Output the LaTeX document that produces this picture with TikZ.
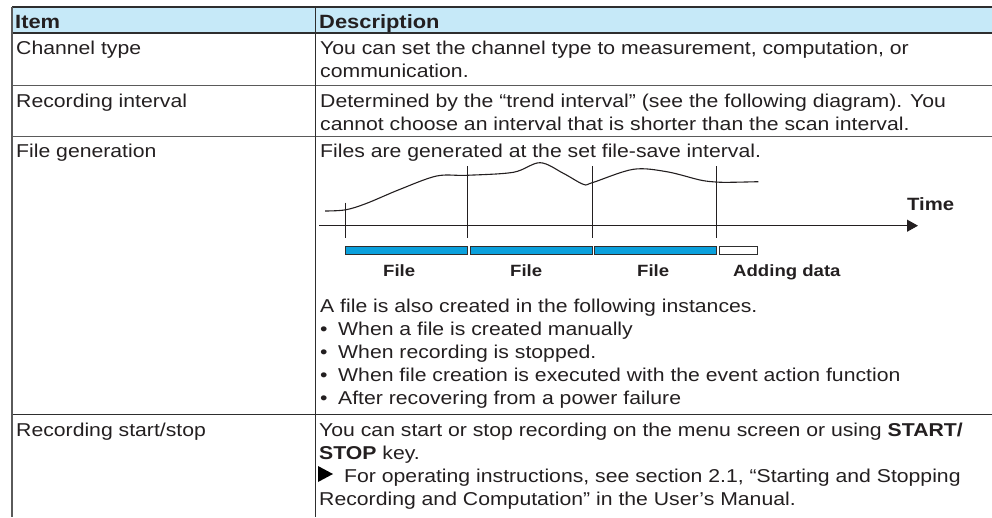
\documentclass[tikz,border=0pt]{standalone}
\usepackage{fontspec}
\setmainfont{Liberation Sans}[FakeStretch=1.14]
\usetikzlibrary{arrows.meta}
\definecolor{headblue}{HTML}{C6E9F8}
\definecolor{barblue}{HTML}{0AA0DC}
\definecolor{ruledark}{HTML}{2E2E2E}
\definecolor{rulegray}{HTML}{5A5A5A}
\definecolor{inkdark}{HTML}{231F20}

\begin{document}
\begin{tikzpicture}[x=1pt,y=-1pt,
  txt/.style={anchor=base west,inner sep=0pt,text=inkdark,font=\fontsize{18.6}{23}\selectfont},
  hd/.style={anchor=base west,inner sep=0pt,text=inkdark,font=\fontsize{19.2}{23}\selectfont\bfseries},
  lbl/.style={anchor=base west,inner sep=0pt,text=inkdark,font=\fontsize{16.3}{20}\selectfont\bfseries},
  tick/.style={draw=inkdark,line width=1.1pt},
  filebar/.style={draw=ruledark,line width=1pt,fill=barblue},
  openbar/.style={draw=ruledark,line width=1pt,fill=white}]
\useasboundingbox (0,0) rectangle (992,517);

% table frame
\fill[headblue] (12,7) rectangle (992,33);
\draw[ruledark,line width=1.2pt] (12,7) -- (992,7);
\draw[ruledark,line width=2.6pt] (12,33) -- (992,33);
\draw[rulegray,line width=1pt] (12,85.5) -- (992,85.5);
\draw[rulegray,line width=1pt] (12,136) -- (992,136);
\draw[ruledark,line width=1pt] (12,414.5) -- (992,414.5);
\draw[rulegray,line width=1.4pt] (12,7) -- (12,517);
\draw[ruledark,line width=1pt] (315,7) -- (315,517);

% header
\node[hd] (hitem) at (15,28) {Item};
\node[hd] (hdesc) at (319,28) {Description};

% row: channel type
\node[txt] (ch) at (16,54) {Channel type};
\node[txt] (ch1) at (320,54) {You can set the channel type to measurement, computation, or};
\node[txt] (ch2) at (320,77) {communication.};

% row: recording interval
\node[txt] (ri) at (16,107) {Recording interval};
\node[txt] (ri1) at (320,107) {Determined by the “trend interval” (see the following diagram). You};
\node[txt] (ri2) at (320,130) {cannot choose an interval that is shorter than the scan interval.};

% row: file generation
\node[txt] (fg) at (16,157) {File generation};
\node[txt] (fg1) at (320,157) {Files are generated at the set file-save interval.};

% trend curve
\draw[inkdark,line width=1.1pt] plot[smooth,tension=0.55] coordinates {
  (325,211) (345.7,209.8) (366.7,203.3) (400,189.3) (436.7,176) (466.7,175.3)
  (513.3,172.3) (540,162.7) (563.3,173.3) (583.3,184.3) (592.3,182.7)
  (633.3,169.3) (666.7,171.7) (700,180) (716,182) (730,182.3) (758.3,181.7)};

% time axis and save ticks
\coordinate (ax0) at (319,225.7);
\node[inner sep=0pt] (axend) at (918,225.7) {};
\draw[inkdark,line width=1.1pt,-{Triangle[length=11pt,width=12pt]}] (ax0) -- (axend.center);
\node[lbl,font=\fontsize{17.8}{20}\selectfont\bfseries] (time) at (907,210) {Time};
\coordinate (t1a) at (345.7,202.7); \coordinate (t1b) at (345.7,238.3);
\coordinate (t2a) at (467.3,166);   \coordinate (t2b) at (467.3,238.3);
\coordinate (t3a) at (592.3,166);   \coordinate (t3b) at (592.3,238.3);
\coordinate (t4a) at (716.3,166);   \coordinate (t4b) at (716.3,238.3);
\draw[tick] (t1a) -- (t1b);
\draw[tick] (t2a) -- (t2b);
\draw[tick] (t3a) -- (t3b);
\draw[tick] (t4a) -- (t4b);

% file bars
\draw[filebar] (345.7,246.7) rectangle (467.3,254);
\draw[filebar] (470,246.7) rectangle (592,254);
\draw[filebar] (594.5,246.7) rectangle (716.5,254);
\draw[openbar] (719,246.7) rectangle (757.7,254);
\node[lbl] (f1) at (383,276) {File};
\node[lbl] (f2) at (510,276) {File};
\node[lbl] (f3) at (637,276) {File};
\node[lbl] (fadd) at (733,276) {Adding data};

% additional file creation cases
\node[txt] (fa) at (320,312) {A file is also created in the following instances.};
\node[txt] (b1) at (320,335) {•};
\node[txt] (b1t) at (338,335) {When a file is created manually};
\node[txt] (b2) at (320,358) {•};
\node[txt] (b2t) at (338,358) {When recording is stopped.};
\node[txt] (b3) at (320,381) {•};
\node[txt] (b3t) at (338,381) {When file creation is executed with the event action function};
\node[txt] (b4) at (320,404) {•};
\node[txt] (b4t) at (338,404) {After recovering from a power failure};

% row: recording start/stop
\node[txt] (rs) at (16,436) {Recording start/stop};
\node[txt] (rs1) at (319,436) {You can start or stop recording on the menu screen or using \textbf{START/}};
\node[txt] (rs2) at (319,459) {\textbf{STOP} key.};
\fill[black] (318,466) -- (333,474) -- (318,482) -- cycle;
\node[txt] (rs3) at (344,482) {For operating instructions, see section 2.1, “Starting and Stopping};
\node[txt] (rs4) at (319,505) {Recording and Computation” in the User’s Manual.};
\end{tikzpicture}
\end{document}
